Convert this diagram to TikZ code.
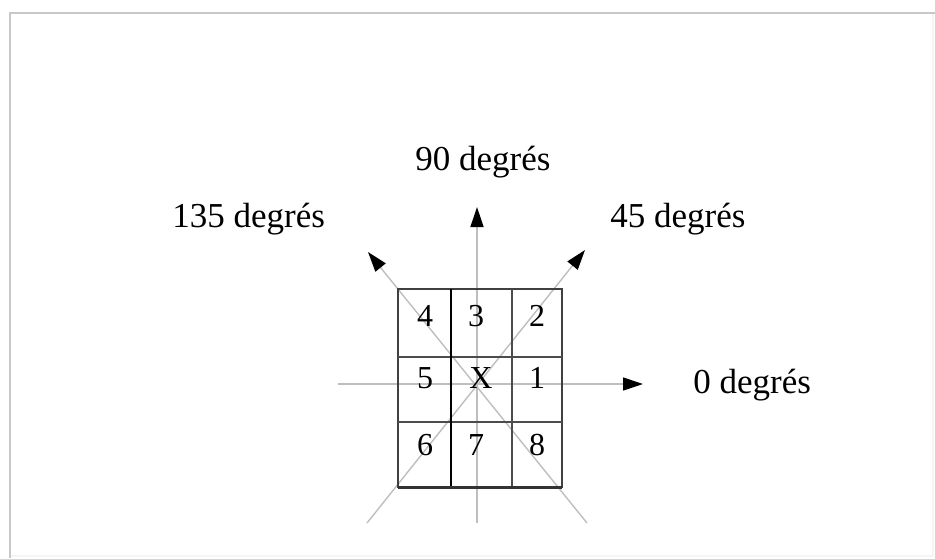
\documentclass[tikz,border=0pt]{standalone}
\usepackage{fontspec}
\setmainfont{Liberation Serif}
\usetikzlibrary{arrows.meta}
\definecolor{framegray}{RGB}{200,200,200}
\definecolor{axisgray}{RGB}{190,190,190}

\begin{document}
\begin{tikzpicture}[x=0.5pt, y=-0.5pt,
    axis/.style={draw=axisgray, line width=0.7pt},
    tip/.style={-{Triangle[color=black, length=10pt, width=6.5pt]}},
    cellno/.style={inner sep=0pt, anchor=base, font=\fontsize{16}{18}\selectfont},
    anglelbl/.style={inner sep=0pt, anchor=base west, font=\fontsize{17.5}{20}\selectfont}]
    %% units are pixels of the 935 x 558 page, y pointing down
    %% grid: x in [398, 562], y in [289, 487]; centre of the rose at (478, 384)
    \useasboundingbox (0,0) rectangle (935,558);

    % ---- FRAME ----
    \draw[gray!8, line width=1pt] (933,13) -- (933,556) -- (10,556);
    \draw[framegray, line width=1.3pt] (10,558) -- (10,13) -- (935,13);

    % ---- DIRECTION LINES ----
    \coordinate (e0)   at (338,384);
    \coordinate (e1)   at (643,384);
    \coordinate (n0)   at (477,523);
    \coordinate (n1)   at (477,207);
    \coordinate (ne0)  at (367,523);
    \coordinate (ne1)  at (585,250);
    \coordinate (nw0)  at (587,523);
    \coordinate (nw1)  at (368,252);
    \draw[axis, tip] (e0) -- (e1);
    \draw[axis, tip] (n0) -- (n1);
    \draw[axis, tip] (ne0) -- (ne1);
    \draw[axis, tip] (nw0) -- (nw1);

    % ---- 3 x 3 NEIGHBOURHOOD ----
    \draw[black!75, line width=0.9pt] (398,289) rectangle (562,487);
    \foreach \y in {357,422} {
      \draw[black!70, line width=0.9pt] (398,\y) -- (562,\y);
    }
    \draw[black!70, line width=0.9pt] (512,289) -- (512,487);
    \draw[black, line width=1.1pt] (451,289) -- (451,487);
    \draw[black!80, line width=1.5pt] (398,487) -- (562,487);

    % cell numbers
    \node[cellno] (c4) at (425,326) {4};
    \node[cellno] (c3) at (476,326) {3};
    \node[cellno] (c2) at (537,326) {2};
    \node[cellno] (c5) at (425,388) {5};
    \node[cellno] (cx) at (481,388) {X};
    \node[cellno] (c1) at (537,388) {1};
    \node[cellno] (c6) at (425,455) {6};
    \node[cellno] (c7) at (476,455) {7};
    \node[cellno] (c8) at (537,455) {8};

    % ---- ANGLE LABELS ----
    \node[anglelbl] (a90)  at (415,170) {90 degrés};
    \node[anglelbl] (a135) at (172,227) {135 degrés};
    \node[anglelbl] (a45)  at (610,227) {45 degrés};
    \node[anglelbl] (a0)   at (693,393) {0 degrés};

  \end{tikzpicture}
\end{document}
